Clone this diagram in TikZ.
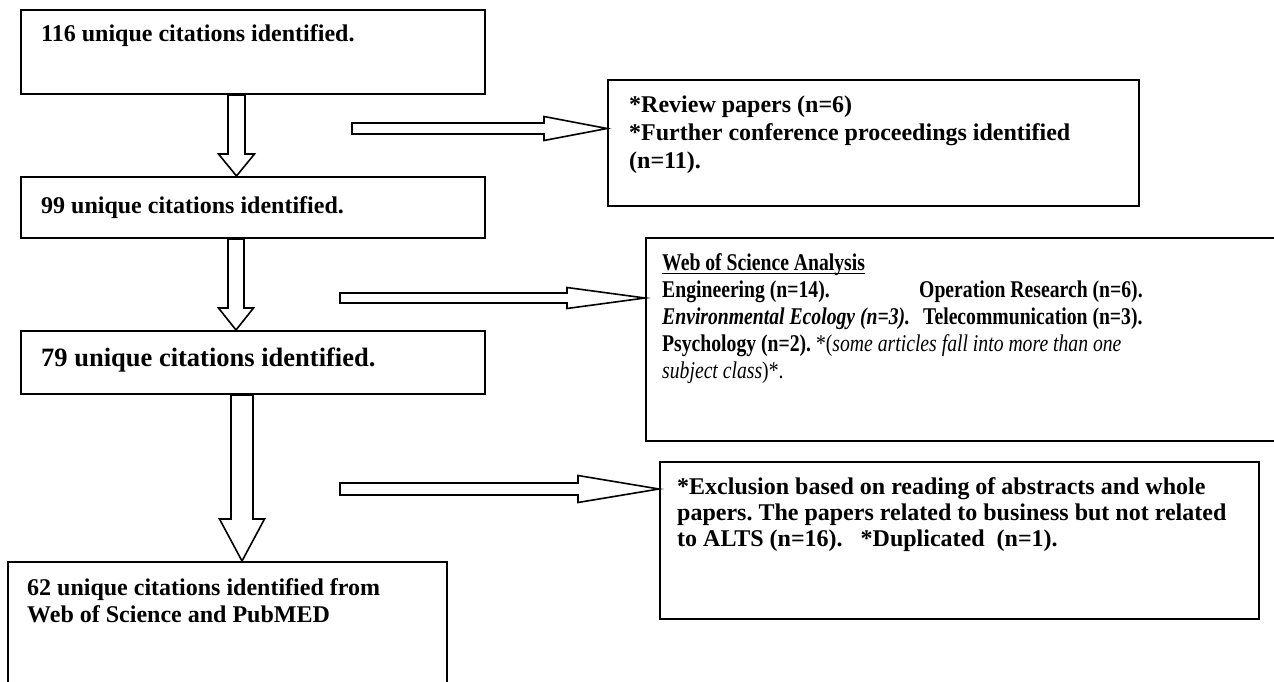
\documentclass[tikz,border=0pt]{standalone}
\usepackage{fontspec}
\setmainfont{Liberation Serif}
\newfontfamily\condfont[FakeStretch=0.82]{Liberation Serif}
\usetikzlibrary{calc}
\frenchspacing
\tikzset{
  box/.style={draw, line width=2pt, anchor=north west, inner sep=0pt, fill=none},
  arr/.style={draw, line width=1.6pt, fill=white, line join=miter},
  txt/.style={anchor=base west, inner sep=0pt, font=\fontsize{24}{27}\selectfont\bfseries},
  bigtxt/.style={anchor=base west, inner sep=0pt, font=\fontsize{26.5}{30}\selectfont\bfseries},
  ctxt/.style={anchor=base west, inner sep=0pt, font=\fontsize{24}{27}\selectfont\condfont\bfseries},
}
\newcommand\varrow[6]{\draw[arr] let \p1=(#1), \p2=(#2) in
  (#3pt-#4pt,\y1) -- (#3pt-#4pt,\y2+#6pt) -- (#3pt-#5pt,\y2+#6pt) -- (#3pt,\y2)
  -- (#3pt+#5pt,\y2+#6pt) -- (#3pt+#4pt,\y2+#6pt) -- (#3pt+#4pt,\y1) -- cycle;}
\newcommand\harrow[5]{\draw[arr] let \p1=(#1), \p2=(#2.west |- #1) in
  (\x1,\y1+#3pt) -- (\x2-#5pt,\y1+#3pt) -- (\x2-#5pt,\y1+#4pt) -- (\x2,\y1)
  -- (\x2-#5pt,\y1-#4pt) -- (\x2-#5pt,\y1-#3pt) -- (\x1,\y1-#3pt) -- cycle;}
\begin{document}
\begin{tikzpicture}[x=1pt,y=-1pt]
\useasboundingbox (0,0) rectangle (1274,682);
\clip (0,0) rectangle (1274,682);
\fill[white] (0,0) rectangle (1274,682);
% left column boxes
\node[box, minimum width=464pt, minimum height=84pt] (b1) at (20,9) {};
\node[box, minimum width=464pt, minimum height=61pt] (b2) at (20,176) {};
\node[box, minimum width=464pt, minimum height=63pt] (b3) at (20,330) {};
\node[box, minimum width=439pt, minimum height=140pt] (b4) at (7,561) {};
% right column boxes
\node[box, minimum width=531pt, minimum height=126pt] (r1) at (607,79) {};
\node[box, minimum width=640pt, minimum height=203pt] (r2) at (645,237) {};
\node[box, minimum width=599pt, minimum height=157pt] (r3) at (659,461) {};
% texts
\node[txt] (t1) at (41,42) {116 unique citations identified.};
\node[txt] (t2) at (41,213) {99 unique citations identified.};
\node[bigtxt] (t3) at (41,366) {79 unique citations identified.};
\node[txt] (t4a) at (27,595) {62 unique citations identified from};
\node[txt] (t4b) at (27,622) {Web of Science and PubMED};
\node[txt] (s1a) at (629,113) {*Review papers (n=6)};
\node[txt] (s1b) at (629,141) {*Further conference proceedings identified};
\node[txt] (s1c) at (629,168) {(n=11).};
\node[ctxt] (s2a) at (662,270) {Web of Science Analysis};
\draw[line width=1.6pt] ([yshift=-3.5pt]s2a.base west) -- ([yshift=-3.5pt]s2a.base east);
\node[ctxt] (s2b) at (662,297) {Engineering (n=14).};
\node[ctxt] (s2c) at (919,297) {Operation Research (n=6).};
\node[ctxt] (s2d) at (662,324) {\itshape Environmental Ecology (n=3).};
\node[ctxt] (s2e) at (923,324) {Telecommunication (n=3).};
\node[ctxt] (s2f) at (662,351) {Psychology (n=2). \mdseries *(\itshape some articles fall into more than one};
\node[ctxt] (s2g) at (662,378) {\mdseries\itshape subject class\upshape)*.};
\node[txt] (s3a) at (677,494) {*Exclusion based on reading of abstracts and whole};
\node[txt] (s3b) at (677,520) {papers. The papers related to business but not related};
\node[txt] (s3c) at (677,546) {to ALTS (n=16).\hspace{12pt} *Duplicated\hspace{6pt} (n=1).};
% down arrows
\varrow{b1.south}{b2.north}{236.5}{8.5}{18}{22}
\varrow{b2.south}{b3.north}{236}{8}{17.5}{22}
\varrow{b3.south}{b4.north}{242}{11}{22.5}{42}
% side arrows
\coordinate (h1) at (352,128.5);
\coordinate (h2) at (340,298);
\coordinate (h3) at (340,489);
\harrow{h1}{r1}{5.5}{12}{63}
\harrow{h2}{r2}{5}{10.5}{78}
\harrow{h3}{r3}{6}{13.5}{81}
\end{tikzpicture}
\end{document}
